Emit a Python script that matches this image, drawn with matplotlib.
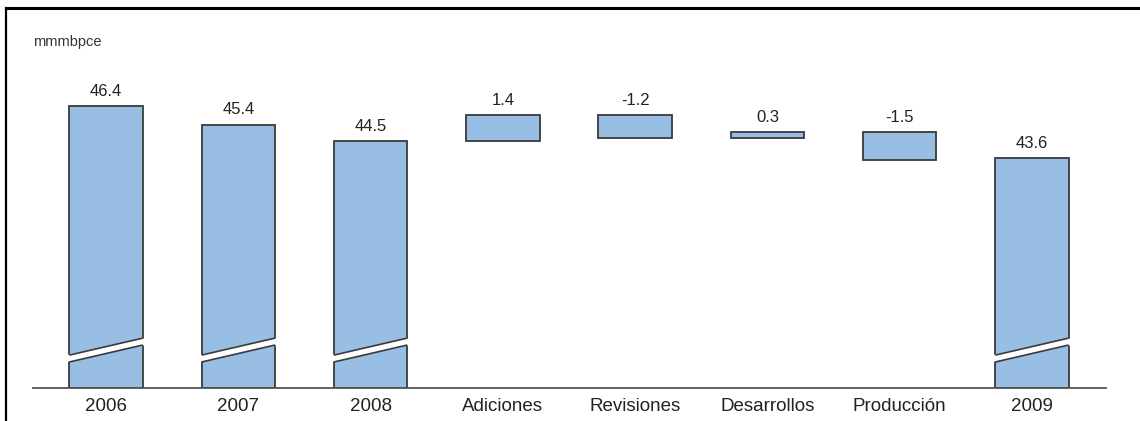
import numpy as np
import matplotlib
matplotlib.use('Agg')
import matplotlib.pyplot as plt
from matplotlib.lines import Line2D

plt.rcParams['font.family'] = ['Liberation Sans', 'DejaVu Sans']

# data
categories = ['2006', '2007', '2008', 'Adiciones', 'Revisiones',
              'Desarrollos', 'Producción', '2009']
totals_start = [46.4, 45.4, 44.5]
deltas = [1.4, -1.2, 0.3, -1.5]
total_end = 43.6
unit_label = 'mmmbpce'

# axis range (broken axis, bottom is not zero)
ymin, ymax = 31.3, 50.46
bar_color = '#99bee4'
edge_color = '#3a3a3a'

W, H = 1140, 421
fig = plt.figure(figsize=(W / 100, H / 100), dpi=100)
ax = fig.add_axes([33 / W, 1 - 388 / H, (1106 - 33) / W, (388 - 30) / H])

# build waterfall
bottoms, tops, labels, full = [], [], [], []
for v in totals_start:
    bottoms.append(ymin); tops.append(v); labels.append(f'{v:.1f}'); full.append(True)
level = totals_start[-1]
for d in deltas:
    lo, hi = sorted([level, level + d])
    bottoms.append(lo); tops.append(hi); labels.append(f'{d:.1f}'); full.append(False)
    level += d
bottoms.append(ymin); tops.append(total_end); labels.append(f'{total_end:.1f}'); full.append(True)

x = np.arange(len(categories))
bw = 0.555
heights = np.array(tops) - np.array(bottoms)
ax.bar(x, heights, bottom=bottoms, width=bw, color=bar_color,
       edgecolor=edge_color, linewidth=1.3, zorder=2)

for xi, t, lab in zip(x, tops, labels):
    ax.text(xi, t + 0.38, lab, ha='center', va='bottom', fontsize=12,
            color='#222222')

# break marks on full bars
b_l_top, b_l_bot = ymin + 1.76, ymin + 1.39
b_r_top, b_r_bot = ymin + 2.67, ymin + 2.30
for xi, f in zip(x, full):
    if not f:
        continue
    xl, xr = xi - bw / 2, xi + bw / 2
    ext = 0.02
    ax.fill([xl - ext, xr + ext, xr + ext, xl - ext],
            [b_l_bot, b_r_bot, b_r_top, b_l_top], color='white', zorder=3,
            linewidth=0)
    ax.plot([xl, xr], [b_l_top, b_r_top], color=edge_color, lw=1.2, zorder=4,
            solid_capstyle='butt')
    ax.plot([xl, xr], [b_l_bot, b_r_bot], color=edge_color, lw=1.2, zorder=4,
            solid_capstyle='butt')

ax.set_xlim(-0.552, 7.56)
ax.set_ylim(ymin, ymax)
ax.set_xticks(x)
ax.set_xticklabels(categories, fontsize=13.5, color='#222222')
ax.tick_params(axis='x', length=0, pad=7)
ax.set_yticks([])
for s in ['top', 'right', 'left']:
    ax.spines[s].set_visible(False)
ax.spines['bottom'].set_color('#555555')
ax.spines['bottom'].set_linewidth(1.3)

fig.text(33 / W, 1 - 42 / H, unit_label, fontsize=10.5, color='#333333',
         ha='left', va='center')

# outer frame (top and left)
fig.add_artist(Line2D([6 / W, 1], [1 - 8 / H, 1 - 8 / H], color='black',
                      lw=2.2, transform=fig.transFigure))
fig.add_artist(Line2D([6 / W, 6 / W], [0, 1 - 8 / H], color='black',
                      lw=1.6, transform=fig.transFigure))

fig.savefig('out.png', dpi=100)
